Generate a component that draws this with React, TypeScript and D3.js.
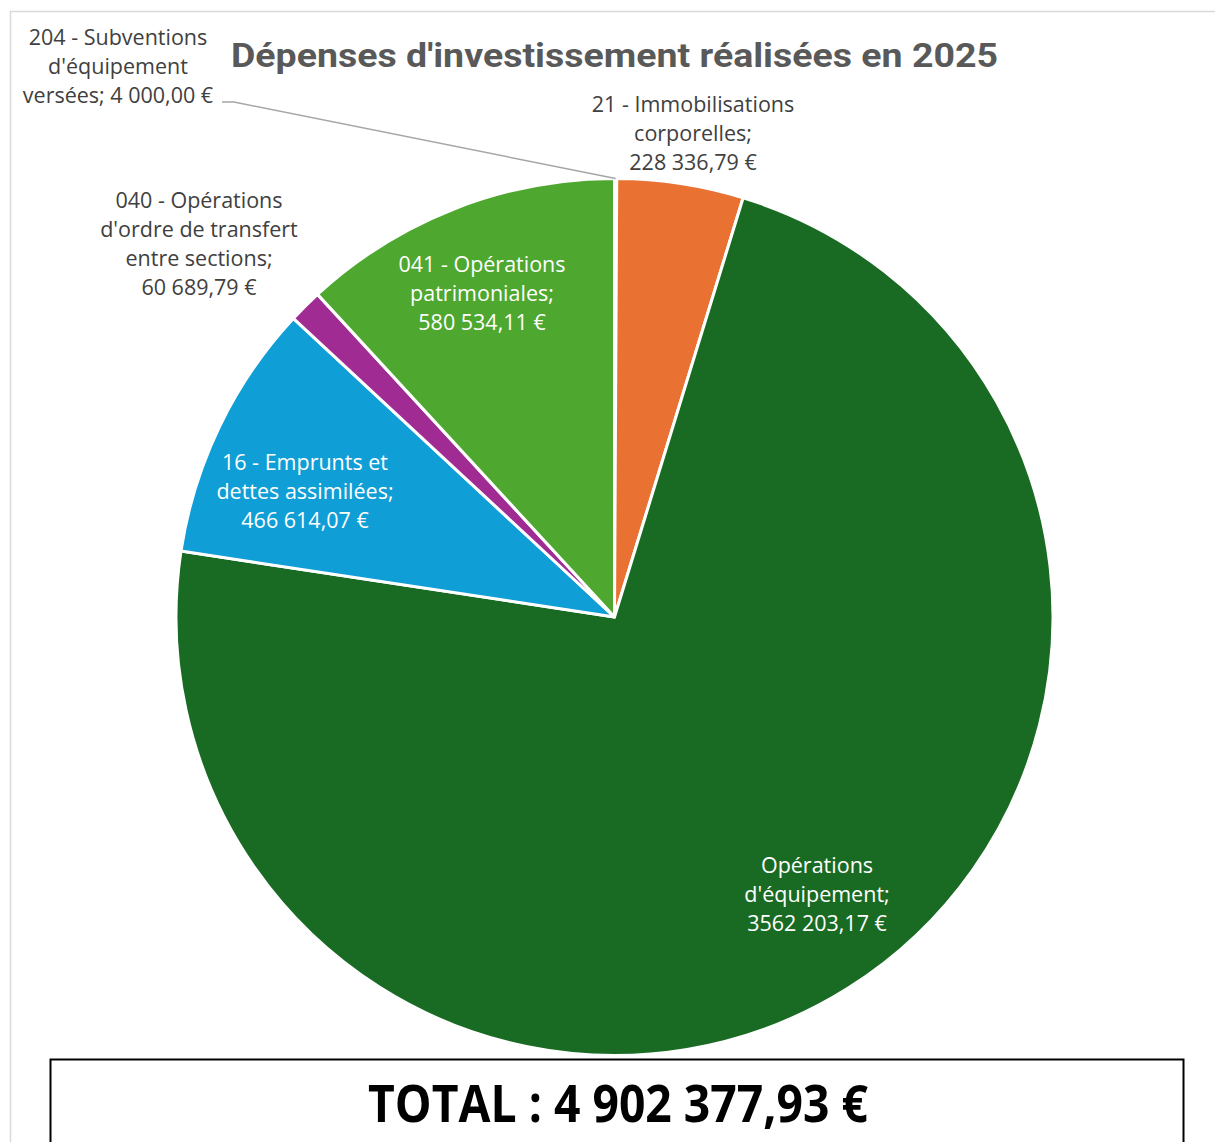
import React from 'react';
import * as d3 from 'd3';

// Data
const categories = [
  "204 - Subventions d'équipement versées",
  '21 - Immobilisations corporelles',
  "Opérations d'équipement",
  '16 - Emprunts et dettes assimilées',
  "040 - Opérations d'ordre de transfert entre sections",
  '041 - Opérations patrimoniales',
];
const values = [4000.0, 228336.79, 3562203.17, 466614.07, 60689.79, 580534.11];
const colors = ['#156082', '#E97132', '#196B24', '#0F9ED5', '#A02B93', '#4EA72E'];

// label text, split like the original
const labelLines = [
  ['204 - Subventions', "d'équipement", 'versées; 4 000,00 €'],
  ['21 - Immobilisations', 'corporelles;', '228 336,79 €'],
  ['Opérations', "d'équipement;", '3562 203,17 €'],
  ['16 - Emprunts et', 'dettes assimilées;', '466 614,07 €'],
  ['040 - Opérations', "d'ordre de transfert", 'entre sections;', '60 689,79 €'],
  ['041 - Opérations', 'patrimoniales;', '580 534,11 €'],
];
const labelInside = [false, false, true, true, false, true];
// label block centres (x, y of first line)
const labelPos: [number, number][] = [
  [118, 37],
  [693, 104],
  [817, 865],
  [305, 462],
  [199, 200],
  [482, 264],
];

const title = "Dépenses d'investissement réalisées en 2025";
const totalText = 'TOTAL : 4 902 377,93 €';

const W = 1215;
const H = 1142;
const cx = 614.5;
const cy = 617;
const R = 438.5;

const App: React.FC = () => {
  const pie = d3.pie<number>().sort(null).value((d) => d);
  const arcs = pie(values);
  const arc = d3.arc<d3.PieArcDatum<number>>().innerRadius(0).outerRadius(R);

  // leader line for the tiny 204 slice
  const a0 = arcs[0];
  const mid = (a0.startAngle + a0.endAngle) / 2;
  const ex = cx + R * Math.sin(mid);
  const ey = cy - R * Math.cos(mid);

  const font = "'Open Sans', 'Noto Sans', sans-serif";
  const lh = 29.3;

  return (
    <svg width={W} height={H} style={{ position: 'absolute', left: 0, top: 0, background: '#fff' }}>
      {/* chart area border */}
      <line x1={10} y1={11.5} x2={W} y2={11.5} stroke="#d9d9d9" strokeWidth={1.5} />
      <line x1={10.5} y1={11} x2={10.5} y2={H} stroke="#d9d9d9" strokeWidth={1.5} />

      <text
        x={614.5}
        y={67}
        textAnchor="middle"
        fontFamily="'Liberation Sans Narrow', 'Roboto', sans-serif"
        fontWeight="bold"
        fontSize={34}
        fill="#595959"
        textLength={767}
        lengthAdjust="spacingAndGlyphs"
      >
        {title}
      </text>

      <g transform={`translate(${cx},${cy})`}>
        {arcs.map((a, i) => (
          <path key={categories[i]} d={arc(a) ?? ''} fill={colors[i]} stroke="#fff" strokeWidth={3} strokeLinejoin="round" />
        ))}
      </g>

      <polyline
        points={`222,102 234,102 ${ex},${ey}`}
        fill="none"
        stroke="#a6a6a6"
        strokeWidth={1.5}
      />

      {labelLines.map((lines, i) => (
        <text
          key={i}
          fontFamily={font}
          fontSize={21.5}
          fill={labelInside[i] ? '#ffffff' : '#404040'}
          textAnchor="middle"
        >
          {lines.map((l, j) => (
            <tspan key={j} x={labelPos[i][0]} y={labelPos[i][1] + j * lh} dy="0.35em">
              {l}
            </tspan>
          ))}
        </text>
      ))}

      <rect x={50.5} y={1059.5} width={1133} height={120} fill="#fff" stroke="#000" strokeWidth={2} />
      <text
        x={618}
        y={1122}
        textAnchor="middle"
        fontFamily="'Liberation Sans Narrow', 'Open Sans', sans-serif"
        fontWeight="bold"
        fontSize={52}
        fill="#000"
        textLength={500}
        lengthAdjust="spacingAndGlyphs"
      >
        {totalText}
      </text>
    </svg>
  );
};

export default App;
